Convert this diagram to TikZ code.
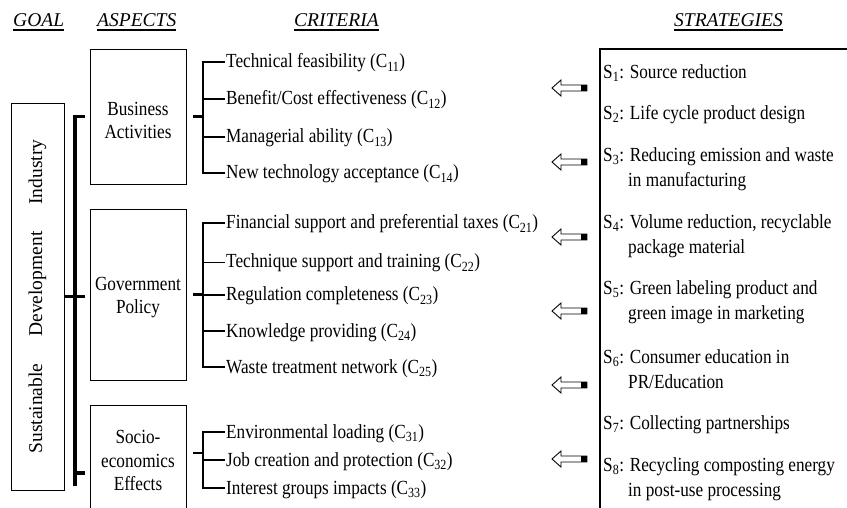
\documentclass[tikz,border=0pt]{standalone}
\usepackage{fontspec}
\setmainfont{Liberation Serif}[FakeStretch=0.86]
\newfontfamily\plainserif{Liberation Serif}
\begin{document}
\begin{tikzpicture}[x=1pt,y=-1pt,
  body/.style={font=\fontsize{20}{23.5}\selectfont, inner sep=0pt},
  hdr/.style={font=\plainserif\itshape\fontsize{19.5}{23}\selectfont, inner sep=0pt, anchor=base west},
  abox/.style={draw, line width=0.9pt, minimum width=96pt, align=center, font=\fontsize{20}{23.5}\selectfont, inner sep=0pt},
  crit/.style={body, anchor=base west, inner xsep=1.5pt},
  strat/.style={anchor=north west, align=left, inner sep=0pt, font=\fontsize{20}{25.5}\selectfont},
  gline/.style={line width=3.5pt, line join=miter},
  cline/.style={line width=2.6pt, line join=miter},
  tick/.style={line width=2pt},
  harrow/.pic={
    \draw[line width=0.9pt, line join=miter] (0,0) -- (9,-8) -- (9,-3) -- (35,-3) -- (35,3) -- (9,3) -- (9,8) -- cycle;
    \fill (29,-3) rectangle (35,3);
  }
]
\clip (0,0) rectangle (847,508);
\fill[white] (0,0) rectangle (847,508);

% headers
\node[hdr] (hgoal) at (13,27) {GOAL};
\node[hdr] (hasp) at (97,27) {ASPECTS};
\node[hdr] (hcrit) at (294,27) {CRITERIA};
\node[hdr] (hstrat) at (674,27) {STRATEGIES};
\foreach \h in {hgoal,hasp,hcrit,hstrat}
  \draw[line width=1.3pt] ([yshift=-3pt]\h.base west) -- ([yshift=-3pt]\h.base east);

% goal
\node[draw, line width=0.9pt, minimum width=53pt, minimum height=387pt, inner sep=0pt] (goal) at (37.5,296.5)
  {\rotatebox{90}{\plainserif\fontsize{19.5}{23}\selectfont Sustainable\hspace{27pt}Development\hspace{27pt}Industry}};

% aspects
\node[abox, minimum height=135pt] (ba) at (138,116.5) {\rule{0pt}{21pt}Business\\Activities};
\node[abox, minimum height=171pt] (gp) at (138,294.5) {\rule{0pt}{19pt}Government\\Policy};
\node[abox, minimum height=111pt] (se) at (138,460.5) {Socio-\\economics\\Effects};

% goal bracket
\draw[gline] ([xshift=-5pt]ba.west) -- (75,116.5) -- (75,486);
\draw[gline] (goal.east) -- (85,296.5);
\draw[gline] (75,473) -- (85,473);

% criteria
\node[crit] (c11) at (224.5,68) {Technical feasibility (C\textsubscript{11})};
\node[crit] (c12) at (224.5,105) {Benefit/Cost effectiveness (C\textsubscript{12})};
\node[crit] (c13) at (224.5,143) {Managerial ability (C\textsubscript{13})};
\node[crit] (c14) at (224.5,179) {New technology acceptance (C\textsubscript{14})};

\node[crit] (c21) at (224.5,229) {Financial support and preferential taxes (C\textsubscript{21})};
\node[crit] (c22) at (224.5,268) {Technique support and training (C\textsubscript{22})};
\node[crit] (c23) at (224.5,301) {Regulation completeness (C\textsubscript{23})};
\node[crit] (c24) at (224.5,337) {Knowledge providing (C\textsubscript{24})};
\node[crit] (c25) at (224.5,373) {Waste treatment network (C\textsubscript{25})};

\node[crit] (c31) at (224.5,438) {Environmental loading (C\textsubscript{31})};
\node[crit] (c32) at (224.5,466) {Job creation and protection (C\textsubscript{32})};
\node[crit] (c33) at (224.5,494) {Interest groups impacts (C\textsubscript{33})};

% criteria brackets: business
\draw[cline] ([xshift=7pt]ba.east) -- (203,116.5);
\draw[cline] (c11.base west |- 0,62) -- (203,62) -- (203,173) -- (c14.base west |- 0,173);
\draw[tick] (203,99) -- (c12.base west |- 0,99);
\draw[tick] (203,137) -- (c13.base west |- 0,137);

% government
\draw[cline] ([xshift=7pt]gp.east) -- (203,294.5);
\draw[cline] (c21.base west |- 0,223) -- (203,223) -- (203,367) -- (c25.base west |- 0,367);
\draw[line width=1pt] (203,262) -- (c22.base west |- 0,262);
\draw[tick] (203,295) -- (c23.base west |- 0,295);
\draw[tick] (203,331) -- (c24.base west |- 0,331);

% socio
\draw[cline] (193,453) -- (203,453);
\draw[cline] (c31.base west |- 0,432) -- (203,432) -- (203,488) -- (c33.base west |- 0,488);
\draw[tick] (203,460) -- (c32.base west |- 0,460);

% strategies box
\draw[line width=1.3pt] (600,530) -- (600,49) -- (870,49);

\node[strat] (s1) at (603,64) {\rule{0pt}{14pt}S\textsubscript{1}: Source reduction};
\node[strat] (s2) at (603,105) {\rule{0pt}{14pt}S\textsubscript{2}: Life cycle product design};
\node[strat] (s3) at (603,147) {\rule{0pt}{14pt}S\textsubscript{3}: Reducing emission and waste\\\hspace*{25pt}in manufacturing};
\node[strat] (s4) at (603,214) {\rule{0pt}{14pt}S\textsubscript{4}: Volume reduction, recyclable\\\hspace*{25pt}package material};
\node[strat] (s5) at (603,280) {\rule{0pt}{14pt}S\textsubscript{5}: Green labeling product and\\\hspace*{25pt}green image in marketing};
\node[strat] (s6) at (603,349) {\rule{0pt}{14pt}S\textsubscript{6}: Consumer education in\\\hspace*{25pt}PR/Education};
\node[strat] (s7) at (603,415) {\rule{0pt}{14pt}S\textsubscript{7}: Collecting partnerships};
\node[strat] (s8) at (603,457) {\rule{0pt}{14pt}S\textsubscript{8}: Recycling composting energy\\\hspace*{25pt}in post-use processing};

% arrows
\foreach \yy in {88,162,237,311,385,459}
  \pic at (552,\yy) {harrow};
\end{tikzpicture}
\end{document}
